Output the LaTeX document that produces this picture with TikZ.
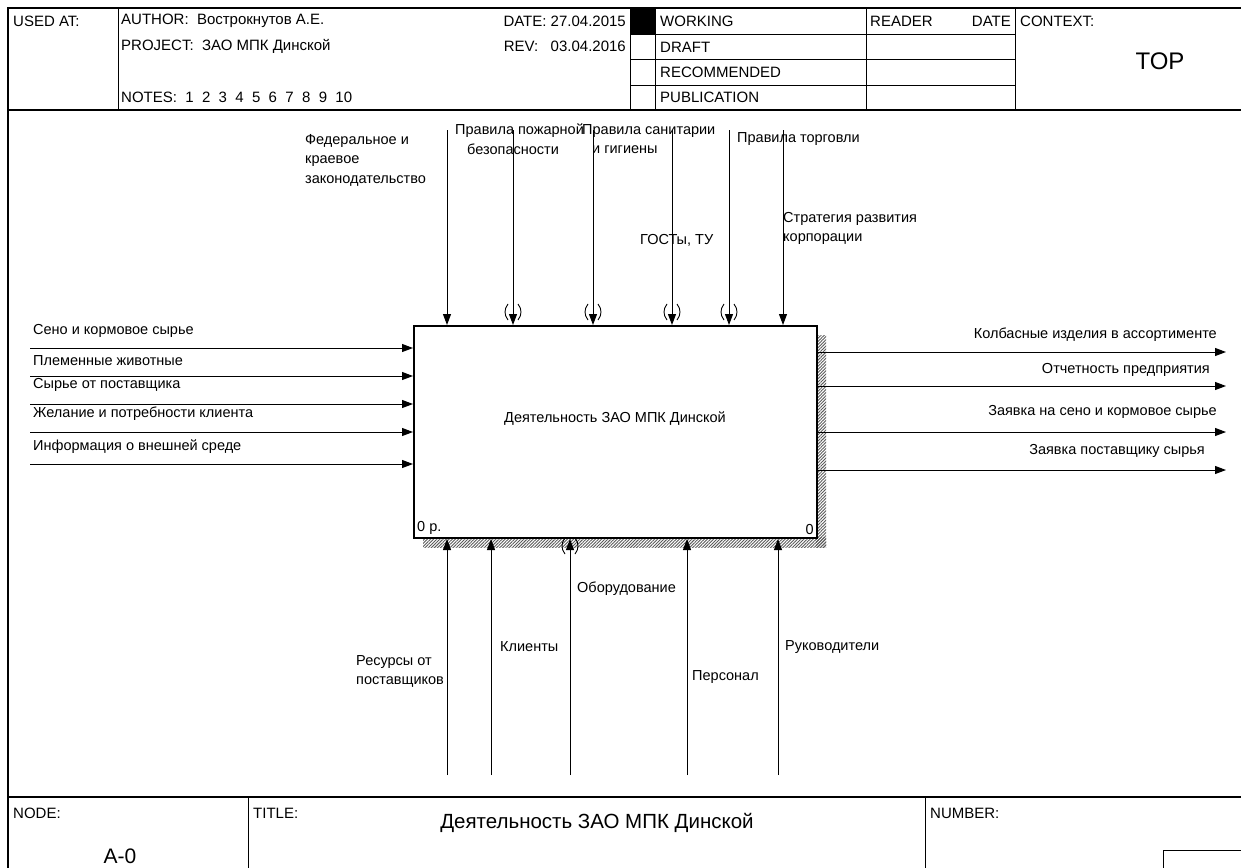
\documentclass[tikz,border=0pt]{standalone}
\usepackage{fontspec}
\setmainfont{Liberation Sans}
\usetikzlibrary{arrows.meta,patterns.meta}
\tikzset{
  tunnel/.pic={
    \draw[line width=0.9pt] (-5,-8) .. controls (-9,-3) and (-9,3) .. (-5,8);
    \draw[line width=0.9pt] (5,-8) .. controls (9,-3) and (9,3) .. (5,8);
  }
}
\begin{document}
\begin{tikzpicture}[x=1pt,y=-1pt,
  lbl/.style={font=\fontsize{14.5}{19.5}\selectfont, inner sep=0pt},
  hdr/.style={font=\fontsize{15}{18}\selectfont, inner sep=0pt},
  big/.style={font=\fontsize{21}{24}\selectfont, inner sep=0pt},
  arr/.style={line width=1pt, -{Triangle[length=11pt,width=8pt]}},
  frameline/.style={line width=1.6pt},
  thinline/.style={line width=0.8pt},
  hatch/.style={pattern={Lines[angle=45,distance=2.2pt,line width=0.9pt]}, pattern color=gray!70!black},
]
\useasboundingbox (0,0) rectangle (1241,867);
% frame
\draw[frameline] (8,870) -- (8,8) -- (1245,8);
\draw[frameline] (8,110) -- (1245,110);
\draw[thinline] (118,8) -- (118,110);
\draw[thinline] (630,8) -- (630,110);
\draw[thinline] (655,8) -- (655,110);
\draw[thinline] (866,8) -- (866,110);
\draw[thinline] (1015,8) -- (1015,110);
\foreach \yy in {34,59.5,85} \draw[thinline] (630,\yy) -- (1015,\yy);
\fill (630,8) rectangle (655,34);
% header text
\node[hdr, anchor=west] (usedat) at (13,21) {USED AT:};
\node[hdr, anchor=west] (author) at (121,21) {AUTHOR:\ \ Вострокнутов А.Е.};
\node[hdr, anchor=west] (project) at (121,46) {PROJECT:\ \ ЗАО МПК Динской};
\node[hdr, anchor=west] (notes) at (121,97) {NOTES:\ \ 1\ \ 2\ \ 3\ \ 4\ \ 5\ \ 6\ \ 7\ \ 8\ \ 9\ \ 10};
\node[hdr, anchor=east] (date) at (626,21) {DATE: 27.04.2015};
\node[hdr, anchor=east] (rev) at (626,46) {REV:\ \ \ 03.04.2016};
\node[hdr, anchor=west] (working) at (660,21) {WORKING};
\node[hdr, anchor=west] (draft) at (660,47) {DRAFT};
\node[hdr, anchor=west] (recom) at (660,72) {RECOMMENDED};
\node[hdr, anchor=west] (publ) at (660,97) {PUBLICATION};
\node[hdr, anchor=west] (reader) at (870,21) {READER};
\node[hdr, anchor=east] (rdate) at (1011,21) {DATE};
\node[hdr, anchor=west] (context) at (1020,21) {CONTEXT:};
\node[inner sep=0pt, font=\fontsize{24}{26}\selectfont] (top) at (1160,61) {TOP};
% title block
\draw[frameline] (8,797) -- (1245,797);
\draw[thinline] (248,797) -- (248,870);
\draw[thinline] (925,797) -- (925,870);
\draw[thinline] (1163,850) rectangle (1250,880);
\node[hdr, anchor=west] (nodelbl) at (13,813) {NODE:};
\node[big] (nodeid) at (120,856) {A-0};
\node[hdr, anchor=west] (titlelbl) at (253,813) {TITLE:};
\node[big, font=\fontsize{20.5}{24}\selectfont] (title) at (597,823) {Деятельность ЗАО МПК Динской};
\node[hdr, anchor=west] (numberlbl) at (930,813) {NUMBER:};
% shadow and box
\fill[hatch] (816,335) rectangle (826,547);
\fill[hatch] (423,537) rectangle (826,547);
\node[draw, fill=white, line width=2pt, minimum width=403pt, minimum height=212pt, anchor=north west, inner sep=0pt] (box) at (413,325) {};
\node[lbl] (boxtext) at (615,419) {Деятельность ЗАО МПК Динской};
\node[lbl, anchor=south west] (cost) at ([shift={(4,-4)}]box.south west) {0 р.};
\node[lbl, anchor=south east] (num) at ([shift={(-4,-4)}]box.south east) {0};
% inputs
\foreach \n/\yy in {1/348,2/376,3/404,4/432,5/464} {
  \coordinate (i\n) at (30,\yy);
  \draw[arr] (i\n) -- (i\n -| box.west);
}
\node[lbl, anchor=west] (li1) at (33,331) {Сено и кормовое сырье};
\node[lbl, anchor=west] (li2) at (33,361) {Племенные животные};
\node[lbl, anchor=west] (li3) at (33,385) {Сырье от поставщика};
\node[lbl, anchor=west] (li4) at (33,414) {Желание и потребности клиента};
\node[lbl, anchor=west] (li5) at (33,447) {Информация о внешней среде};
% outputs
\foreach \n/\yy in {1/352,2/386,3/432,4/470} {
  \coordinate (o\n) at (1226,\yy);
  \draw[arr] (o\n -| box.east) -- (o\n);
}
\node[lbl, anchor=east] (lo1) at (1217,335) {Колбасные изделия в ассортименте};
\node[lbl, anchor=east] (lo2) at (1210,370) {Отчетность предприятия};
\node[lbl, anchor=east] (lo3) at (1217,412) {Заявка на сено и кормовое сырье};
\node[lbl, anchor=east] (lo4) at (1205,451) {Заявка поставщику сырья};
% controls
\foreach \n/\xx in {1/447,2/513,3/593,4/672,5/729,6/783} {
  \coordinate (c\n) at (\xx,130);
  \draw[arr] (c\n) -- (c\n |- box.north);
}
\foreach \xx in {513,593,672,729} \pic at (\xx,312) {tunnel};
\node[lbl, anchor=north west, align=left] (lc1) at (305,134) {Федеральное и\\краевое\\законодательство};
\node[lbl, anchor=north west, align=left] (lc2) at (455,124) {Правила пожарной\\\hspace*{12pt}безопасности};
\node[lbl, anchor=north west, align=left] (lc3) at (582,124) {Правила санитарии\\\hspace*{10pt}и гигиены};
\node[lbl, anchor=west] (lc4) at (737,139) {Правила торговли};
\node[lbl, anchor=west] (lc5) at (640,240) {ГОСТы, ТУ};
\node[lbl, anchor=north west, align=left] (lc6) at (783,212) {Стратегия развития\\корпорации};
% mechanisms
\foreach \n/\xx in {1/447,2/491,3/570,4/687,5/778} {
  \coordinate (m\n) at (\xx,775);
  \draw[arr] (m\n) -- (m\n |- box.south);
}
\pic at (570,546) {tunnel};
\node[lbl, anchor=north west, align=left] (lm1) at (356,655) {Ресурсы от\\поставщиков};
\node[lbl, anchor=west] (lm2) at (500,647) {Клиенты};
\node[lbl, anchor=west] (lm3) at (577,589) {Оборудование};
\node[lbl, anchor=west] (lm4) at (692,677) {Персонал};
\node[lbl, anchor=west] (lm5) at (785,647) {Руководители};
\end{tikzpicture}
\end{document}
